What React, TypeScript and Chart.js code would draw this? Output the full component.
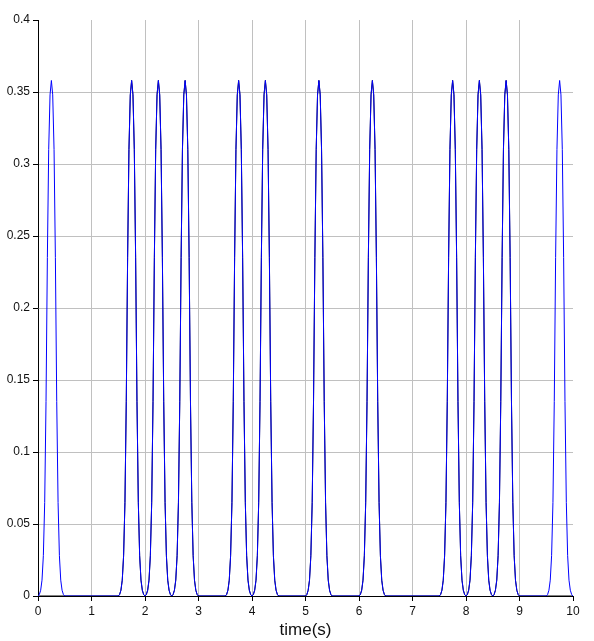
import React, { useEffect, useRef } from "react";
import { Chart, registerables } from "chart.js";

Chart.register(...registerables);

// Pulse centres (s)
const bluePulseCenters = [0.25, 1.75, 2.25, 2.75, 3.75, 4.25, 5.25, 6.25, 7.75, 8.25, 8.75, 9.75];
const blackPulseCenters = [1.75, 2.25, 2.75, 3.75, 4.25, 5.25, 6.25, 7.75, 8.25, 8.75];
// One pulse profile: offsets from centre (s) and heights
const pulseOffsets = [0, 0.025, 0.05, 0.075, 0.1, 0.125, 0.15, 0.175, 0.2, 0.225, 0.25];
const pulseHeights = [0.358, 0.348, 0.31, 0.235, 0.135, 0.065, 0.028, 0.011, 0.004, 0.001, 0];
const xTicks = [0, 1, 2, 3, 4, 5, 6, 7, 8, 9, 10];
const yTicks = [0, 0.05, 0.1, 0.15, 0.2, 0.25, 0.3, 0.35, 0.4];
const xMin = 0;
const xMax = 10;

function buildSeries(centers: number[]) {
  const pts: { x: number; y: number }[] = [{ x: xMin, y: 0 }];
  const sorted = [...centers].sort((a, b) => a - b);
  for (const c of sorted) {
    for (let i = pulseOffsets.length - 1; i >= 1; i--) {
      pts.push({ x: c - pulseOffsets[i], y: pulseHeights[i] });
    }
    pts.push({ x: c, y: pulseHeights[0] });
    for (let i = 1; i < pulseOffsets.length; i++) {
      pts.push({ x: c + pulseOffsets[i], y: pulseHeights[i] });
    }
  }
  pts.push({ x: xMax, y: 0 });
  const clean = pts
    .filter((p) => p.x >= xMin && p.x <= xMax)
    .sort((a, b) => a.x - b.x);
  return clean;
}

export default function App() {
  const ref = useRef<HTMLCanvasElement | null>(null);
  useEffect(() => {
    if (!ref.current) return;
    const chart = new Chart(ref.current, {
      type: "line",
      data: {
        datasets: [
          {
            label: "blue",
            data: buildSeries(bluePulseCenters),
            borderColor: "#0000ff",
            borderWidth: 1,
            pointRadius: 0,
            tension: 0,
            fill: false,
          },
          {
            label: "black",
            data: buildSeries(blackPulseCenters),
            borderColor: "#000000",
            borderWidth: 1,
            pointRadius: 0,
            tension: 0,
            fill: false,
          },
        ],
      },
      options: {
        responsive: false,
        animation: false,
        devicePixelRatio: 1,
        layout: { padding: { left: 0, right: 21, top: 20, bottom: 0 } },
        plugins: { legend: { display: false }, tooltip: { enabled: false } },
        scales: {
          x: {
            type: "linear",
            min: xMin,
            max: xMax,
            afterBuildTicks: (s: any) => {
              s.ticks = xTicks.map((v) => ({ value: v }));
            },
            afterFit: (s: any) => {
              s.height = 45;
            },
            ticks: {
              color: "#111",
              font: { family: "'Liberation Sans', Arial, sans-serif", size: 12 },
              padding: 3,
              maxRotation: 0,
              autoSkip: false,
              callback: (v: any) => String(v),
            },
            grid: {
              color: (c: any) => (c.tick && (c.tick.value === 10 || c.tick.value === 0) ? "rgba(0,0,0,0)" : "#c0c0c0"),
              tickColor: "#000",
              tickLength: 5,
              lineWidth: 1,
            },
            border: { color: "#000", width: 1 },
            title: {
              display: true,
              text: "time(s)",
              color: "#111",
              font: { family: "'Liberation Sans', Arial, sans-serif", size: 17 },
              padding: { top: 0, bottom: 0 },
            },
          },
          y: {
            type: "linear",
            min: 0,
            max: 0.4,
            afterBuildTicks: (s: any) => {
              s.ticks = yTicks.map((v) => ({ value: v }));
            },
            afterFit: (s: any) => {
              s.width = 38;
            },
            ticks: {
              color: "#111",
              font: { family: "'Liberation Sans', Arial, sans-serif", size: 12 },
              padding: 3,
              autoSkip: false,
              callback: (v: any) => String(Number(Number(v).toFixed(2))),
            },
            grid: {
              color: (c: any) => (c.tick && (c.tick.value >= 0.399 || c.tick.value === 0) ? "rgba(0,0,0,0)" : "#c0c0c0"),
              tickColor: "#000",
              tickLength: 5,
              lineWidth: 1,
            },
            border: { color: "#000", width: 1 },
          },
        },
      },
    });
    return () => chart.destroy();
  }, []);
  return (
    <div style={{ position: "absolute", left: 0, top: 0, width: 594, height: 641, background: "#fff" }}>
      <canvas ref={ref} width={594} height={641} style={{ display: "block" }} />
    </div>
  );
}
